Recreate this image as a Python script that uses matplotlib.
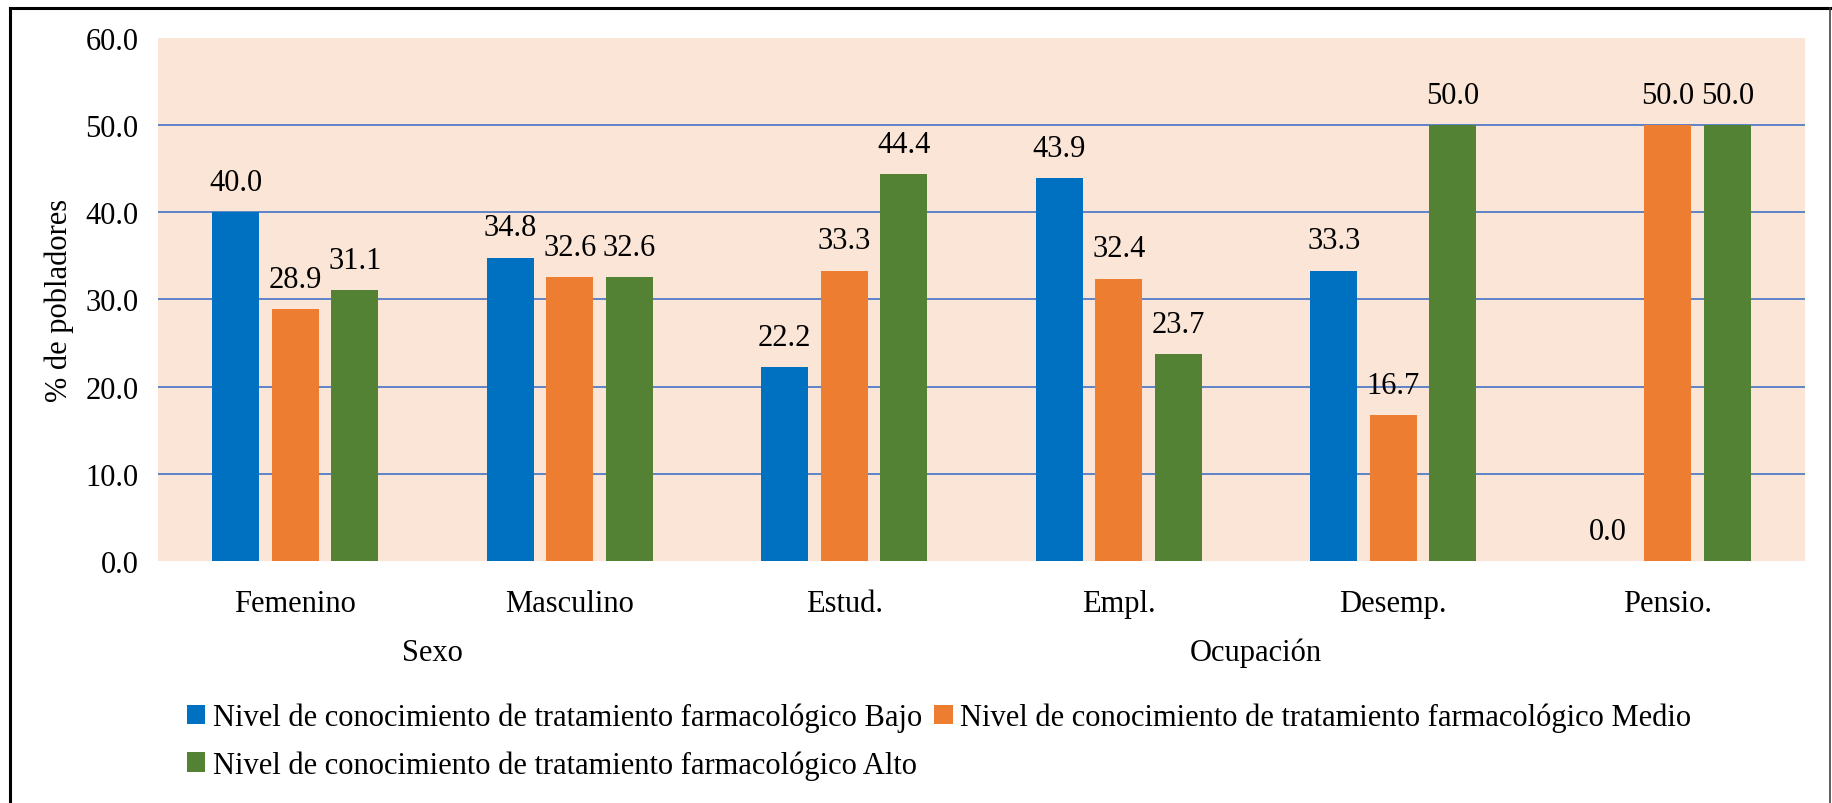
import matplotlib
matplotlib.use("Agg")
import matplotlib.pyplot as plt
from matplotlib.lines import Line2D
import numpy as np

plt.rcParams['font.family'] = ['Liberation Serif', 'DejaVu Serif']

# datos del grafico
categorias = ['Femenino', 'Masculino', 'Estud.', 'Empl.', 'Desemp.', 'Pensio.']
grupos = ['Sexo', 'Ocupación']
grupo_centros = [0.5, 3.5]
bajo = [40.0, 34.8, 22.2, 43.9, 33.3, 0.0]
medio = [28.9, 32.6, 33.3, 32.4, 16.7, 50.0]
alto = [31.1, 32.6, 44.4, 23.7, 50.0, 50.0]
series = [
    ('Nivel de conocimiento de tratamiento farmacológico Bajo', bajo, '#0070C0'),
    ('Nivel de conocimiento de tratamiento farmacológico Medio', medio, '#ED7D31'),
    ('Nivel de conocimiento de tratamiento farmacológico Alto', alto, '#548235'),
]

fs = 22
fig = plt.figure(figsize=(18.32, 8.04), dpi=100)
ax = fig.add_axes([0.0862, 0.301, 0.8991, 0.6505])
ax.set_facecolor('#FBE5D6')

x = np.arange(len(categorias))
ancho = 0.171
paso = 0.217
barras = []
for i, (nombre, valores, color) in enumerate(series):
    b = ax.bar(x + (i - 1) * paso, valores, ancho, color=color, label=nombre, zorder=3)
    barras.append(b)
    for xi, v in zip(x + (i - 1) * paso, valores):
        ax.annotate('%.1f' % v, (xi, v), xytext=(0, 11), textcoords='offset points',
                    ha='center', va='bottom', fontsize=fs)

ax.set_xlim(-0.5, len(categorias) - 0.5)
ax.set_ylim(0, 60)
ax.set_yticks(np.arange(0, 61, 10))
ax.set_yticklabels(['%.1f' % t for t in np.arange(0, 61, 10)], fontsize=fs)
ax.set_xticks(x)
ax.set_xticklabels(categorias, fontsize=fs)
ax.tick_params(axis='both', length=0)
ax.tick_params(axis='y', pad=14)
ax.tick_params(axis='x', pad=20)

ax.set_axisbelow(True)
ax.yaxis.grid(True, color='#4472C4', linewidth=1.2)
lineas = ax.get_ygridlines()
lineas[0].set_visible(False)
lineas[-1].set_visible(False)
for s in ax.spines.values():
    s.set_visible(False)

ax.set_ylabel('% de pobladores', fontsize=fs)
ax.yaxis.set_label_coords(-0.051, 0.5)

for g, c in zip(grupos, grupo_centros):
    ax.text(c, -0.175, g, transform=ax.get_xaxis_transform(), ha='center', va='center', fontsize=fs)

handles = [barras[0], barras[2], barras[1]]
labels = [series[0][0], series[2][0], series[1][0]]
fig.legend(handles, labels, loc='upper left', bbox_to_anchor=(0.102, 0.1245), ncol=2,
           frameon=False, fontsize=fs, borderpad=0, handlelength=0.6, handleheight=0.6,
           handletextpad=0.25, columnspacing=0.4, labelspacing=0.58, borderaxespad=0)

# marco exterior
fig.add_artist(Line2D([9.5 / 1832, 1830 / 1832], [1 - 9 / 804, 1 - 9 / 804], color='black', linewidth=2.2, transform=fig.transFigure))
fig.add_artist(Line2D([9.5 / 1832, 9.5 / 1832], [0, 1 - 9 / 804], color='black', linewidth=2.2, transform=fig.transFigure))
fig.add_artist(Line2D([1830 / 1832, 1830 / 1832], [0, 1 - 9 / 804], color='#333333', linewidth=1.1, transform=fig.transFigure))

fig.savefig('out.png', dpi=100)
